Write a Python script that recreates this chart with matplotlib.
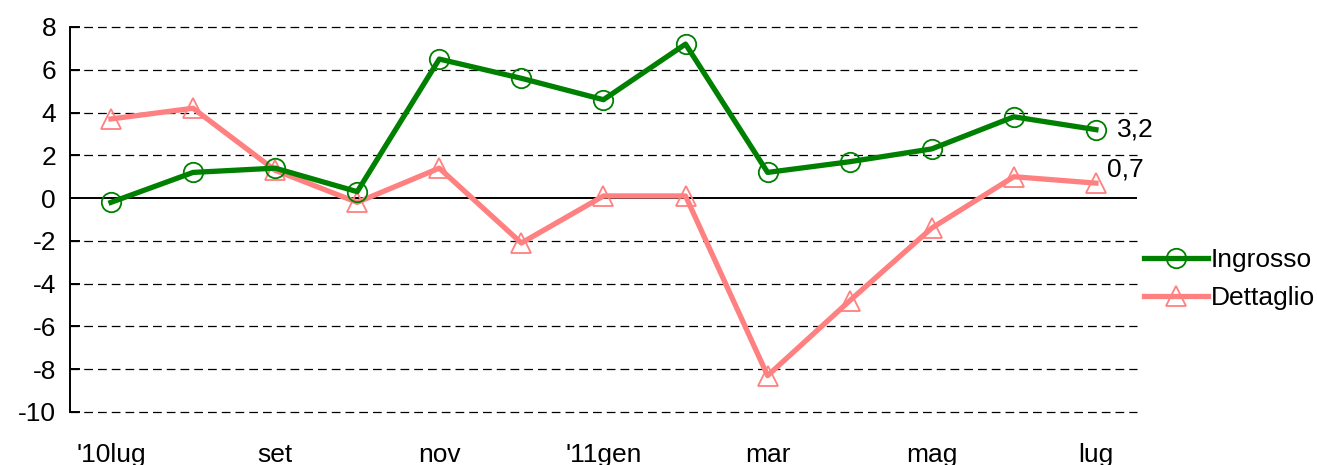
import matplotlib.pyplot as plt
import numpy as np

plt.rcParams["font.family"] = ["Liberation Sans", "DejaVu Sans"]
plt.rcParams["axes.unicode_minus"] = False

months = ["'10lug", "ago", "set", "ott", "nov", "dic", "'11gen",
          "feb", "mar", "apr", "mag", "giu", "lug"]
tick_labels = ["'10lug", "", "set", "", "nov", "", "'11gen",
               "", "mar", "", "mag", "", "lug"]
ingrosso = [-0.2, 1.2, 1.4, 0.3, 6.5, 5.6, 4.6, 7.2, 1.2, 1.7, 2.3, 3.8, 3.2]
dettaglio = [3.7, 4.2, 1.3, -0.2, 1.4, -2.1, 0.1, 0.1, -8.3, -4.8, -1.4, 1.0, 0.7]

green = "#008000"
pink = "#ff8080"
fs = 19

fig = plt.figure(figsize=(13.17, 4.65), dpi=100)
ax = fig.add_axes([0.0531, 0.114, 0.8102, 0.828])

x = np.arange(len(months))
ax.plot(x, ingrosso, color=green, lw=3.8, marker="o", ms=14,
        mfc="none", mec=green, mew=1.3, label="Ingrosso", zorder=4)
ax.plot(x, dettaglio, color=pink, lw=3.8, marker="^", ms=14,
        mfc="none", mec=pink, mew=1.3, label="Dettaglio", zorder=3)

ax.annotate(f"{ingrosso[-1]:.1f}".replace(".", ","), (x[-1], ingrosso[-1]),
            xytext=(15, 0), textcoords="offset points", va="center",
            fontsize=fs)
ax.annotate(f"{dettaglio[-1]:.1f}".replace(".", ","), (x[-1], dettaglio[-1]),
            xytext=(8, 10), textcoords="offset points", va="center",
            fontsize=fs)

ax.set_xlim(-0.5, len(months) - 0.5)
ax.set_ylim(-10, 8)
ax.set_yticks(np.arange(-10, 9, 2))
ax.set_xticks(x)
ax.set_xticklabels(tick_labels)

for yv in np.arange(-10, 9, 2):
    if yv != 0:
        ax.axhline(yv, color="black", lw=0.9, ls=(0, (7, 4)), zorder=1,
                   clip_on=False)
ax.axhline(0, color="black", lw=1.4, zorder=2)

for s in ["top", "right", "bottom"]:
    ax.spines[s].set_visible(False)
ax.spines["left"].set_linewidth(1.4)
ax.tick_params(axis="y", direction="in", length=7, width=1.4, labelsize=fs, pad=10)
ax.tick_params(axis="x", length=0, labelsize=fs, pad=22)

ax.legend(loc="center left", bbox_to_anchor=(0.869, 0.40),
          bbox_transform=fig.transFigure, frameon=False, fontsize=fs,
          handlelength=2.4, handletextpad=0.1, labelspacing=0.55,
          borderpad=0, borderaxespad=0)

fig.savefig("out.png", dpi=100)
